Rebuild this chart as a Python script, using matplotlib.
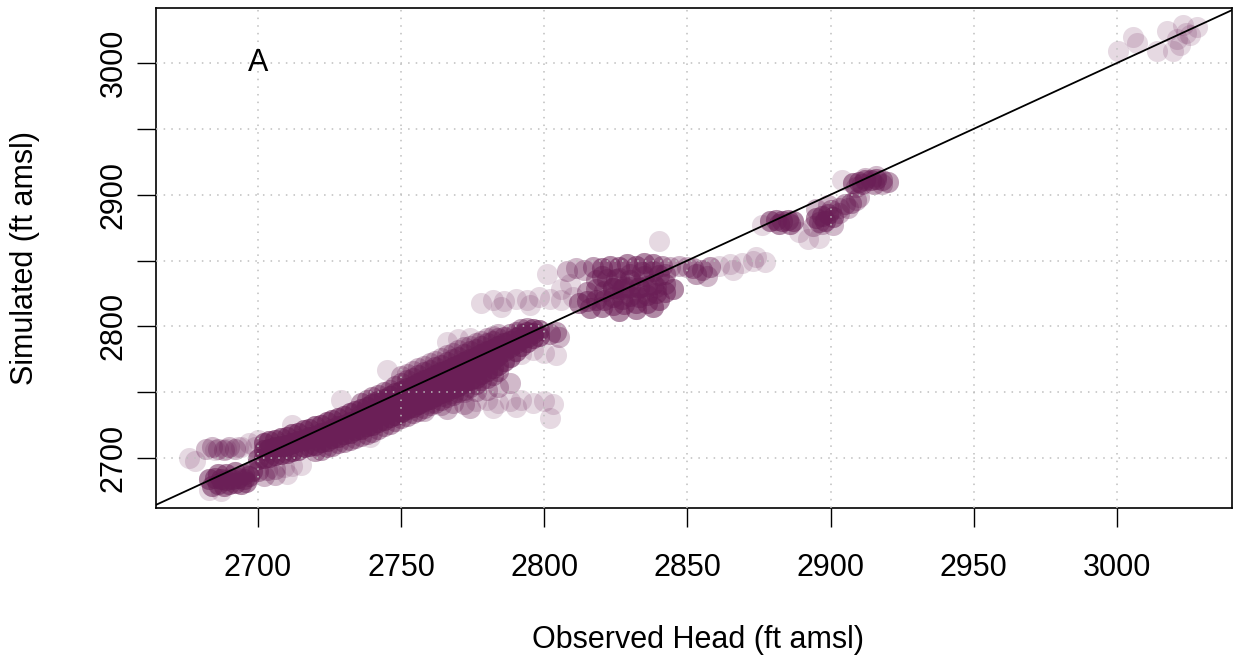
import numpy as np
import matplotlib
matplotlib.use("Agg")
import matplotlib.pyplot as plt

plt.rcParams['font.family'] = ['Liberation Sans', 'DejaVu Sans']

POINT_COLOR = '#6B1F57'

# ---- Data (observed head, simulated head, number of overlapping observations) ----
# main band, lower core
r1_obs = [2700, 2702, 2704, 2706, 2708, 2710, 2712, 2714, 2716, 2718, 2720, 2722, 2724, 2726, 2728,
          2730, 2732, 2734, 2736, 2738, 2740, 2742, 2744, 2746, 2748, 2750, 2752, 2754, 2756, 2758,
          2760, 2762, 2764, 2766, 2768, 2770, 2772, 2774, 2776, 2778, 2780, 2782, 2784, 2786, 2788,
          2790, 2792, 2794, 2796, 2798]
r1_sim = [2699, 2700, 2701, 2702, 2703, 2704, 2705, 2706, 2708, 2709, 2710, 2712, 2713, 2715, 2716,
          2718, 2719, 2721, 2722, 2724, 2725, 2727, 2729, 2731, 2733, 2735, 2737, 2739, 2741, 2743,
          2745, 2747, 2749, 2751, 2753, 2755, 2757, 2759, 2761, 2764, 2766, 2768, 2771, 2774, 2777,
          2781, 2785, 2788, 2791, 2793]
r1_n = 5
# main band, middle core
r2_obs = [2702, 2704, 2706, 2708, 2710, 2712, 2714, 2716, 2718, 2720, 2722, 2724, 2726, 2728, 2730,
          2732, 2734, 2736, 2738, 2740, 2742, 2744, 2746, 2748, 2750, 2752, 2754, 2756, 2758, 2760,
          2762, 2764, 2766, 2768, 2770, 2772, 2774, 2776, 2778, 2780, 2782, 2784, 2786, 2788, 2790,
          2792, 2794, 2796, 2798]
r2_sim = [2706, 2707, 2708, 2709, 2710, 2711, 2713, 2714, 2716, 2717, 2719, 2720, 2722, 2724, 2725,
          2727, 2728, 2730, 2732, 2733, 2735, 2737, 2739, 2741, 2743, 2745, 2747, 2749, 2751, 2753,
          2755, 2757, 2759, 2761, 2763, 2765, 2767, 2769, 2771, 2773, 2775, 2778, 2781, 2784, 2787,
          2790, 2792, 2795, 2797]
r2_n = 5
# main band, upper core
r3_obs = [2702, 2704, 2706, 2708, 2710, 2712, 2714, 2716, 2718, 2720, 2722, 2724, 2726, 2728, 2730,
          2732, 2734, 2736, 2738, 2740, 2742, 2744, 2746, 2748, 2750, 2752, 2754, 2756, 2758, 2760,
          2762, 2764, 2766, 2768, 2770, 2772, 2774, 2776, 2778, 2780, 2782, 2784, 2786, 2788, 2790,
          2792, 2794, 2796]
r3_sim = [2711, 2713, 2714, 2715, 2716, 2718, 2719, 2721, 2722, 2724, 2725, 2727, 2729, 2730, 2732,
          2734, 2736, 2737, 2739, 2741, 2743, 2745, 2747, 2749, 2751, 2753, 2755, 2757, 2759, 2761,
          2763, 2765, 2767, 2769, 2771, 2773, 2775, 2777, 2779, 2781, 2783, 2785, 2787, 2789, 2791,
          2794, 2796, 2798]
r3_n = 5
# main band, lower edge
r4_obs = [2720, 2722, 2724, 2726, 2728, 2730, 2732, 2734, 2736, 2738, 2740, 2742, 2744, 2746, 2748,
          2750, 2752, 2754, 2756, 2758, 2760, 2762, 2764, 2766, 2768, 2770, 2772, 2774, 2776, 2778,
          2780, 2782, 2784]
r4_sim = [2705, 2706, 2708, 2709, 2711, 2712, 2714, 2715, 2717, 2718, 2720, 2722, 2724, 2726, 2728,
          2730, 2732, 2734, 2736, 2738, 2740, 2742, 2744, 2746, 2748, 2750, 2752, 2754, 2756, 2759,
          2761, 2763, 2766]
r4_n = 3
# main band, upper edge
r5_obs = [2736, 2738, 2740, 2742, 2744, 2746, 2748, 2750, 2752, 2754, 2756, 2758, 2760, 2762, 2764,
          2766, 2768, 2770, 2772, 2774, 2776, 2778, 2780, 2782, 2784, 2786, 2788, 2790, 2792, 2794]
r5_sim = [2742, 2744, 2746, 2748, 2750, 2752, 2755, 2757, 2759, 2761, 2763, 2765, 2767, 2769, 2771,
          2773, 2775, 2777, 2779, 2781, 2783, 2785, 2787, 2789, 2791, 2792, 2794, 2796, 2798, 2799]
r5_n = 3
# main band, top edge
r6_obs = [2750, 2752, 2754, 2756, 2758, 2760, 2762, 2764, 2766, 2768, 2770, 2772, 2774, 2776, 2778,
          2780, 2782, 2784]
r6_sim = [2762, 2764, 2766, 2768, 2770, 2772, 2774, 2776, 2778, 2780, 2782, 2784, 2785, 2787, 2789,
          2791, 2793, 2794]
r6_n = 2
# medium-density zone under the band
r7_obs = [2748, 2752, 2756, 2760, 2764, 2768, 2772, 2776, 2780, 2784, 2788]
r7_sim = [2742, 2745, 2746, 2748, 2747, 2749, 2750, 2751, 2752, 2754, 2757]
r7_n = 2

# lower-left low cluster
lowa_obs = [2683, 2685, 2687, 2689, 2691, 2693, 2695, 2697, 2684, 2686, 2688, 2690, 2692, 2694, 2696,
            2686, 2689, 2692, 2695, 2698]
lowa_sim = [2684, 2685, 2684, 2683, 2684, 2685, 2684, 2686, 2679, 2680, 2679, 2680, 2681, 2680, 2682,
            2688, 2688, 2689, 2688, 2690]
lowa_n = 4
lowx_obs = [2700, 2703, 2706, 2709, 2712, 2715, 2702, 2706, 2710, 2683, 2687]
lowx_sim = [2690, 2691, 2692, 2693, 2694, 2695, 2686, 2687, 2688, 2676, 2675]
lowx_n = [3, 2, 2, 1, 1, 1, 2, 2, 1, 1, 1]

# lower-left upper streak
upb_obs = [2682, 2684, 2686, 2688, 2690, 2692, 2694, 2685, 2689, 2693, 2678, 2676, 2699, 2697]
upb_sim = [2707, 2708, 2707, 2706, 2708, 2707, 2708, 2706, 2707, 2708, 2698, 2700, 2708, 2711]
upb_n = [2, 2, 2, 2, 2, 2, 1, 1, 1, 1, 1, 1, 1, 1]

# streak below the band
below_obs = [2736, 2740, 2744, 2748, 2752, 2756, 2760, 2764, 2768, 2772, 2776, 2780, 2784, 2788, 2792,
             2796, 2800, 2803, 2802, 2750, 2758, 2766, 2774, 2782, 2790]
below_sim = [2733, 2734, 2738, 2740, 2739, 2741, 2742, 2740, 2742, 2741, 2743, 2744, 2742, 2743, 2744,
             2742, 2743, 2741, 2730, 2735, 2736, 2737, 2738, 2738, 2739]
below_n = [2, 2, 2, 2, 2, 2, 2, 2, 2, 2, 1, 1, 1, 1, 1, 1, 1, 1, 1, 2, 2, 2, 2, 1, 1]

# scattered points above the band
above_obs = [2700, 2712, 2729, 2745, 2766, 2770, 2774, 2739]
above_sim = [2714, 2725, 2744, 2767, 2788, 2790, 2791, 2716]
above_n = 1

# points near 2800
p2800_obs = [2802, 2804, 2805, 2796, 2800, 2804, 2792]
p2800_sim = [2794, 2796, 2792, 2782, 2780, 2778, 2779]
p2800_n = [3, 3, 2, 1, 1, 1, 1]

# light row near 2820
row2820_obs = [2778, 2782, 2786, 2790, 2794, 2798, 2802, 2806, 2810, 2785, 2795, 2801, 2806, 2809]
row2820_sim = [2818, 2820, 2819, 2821, 2820, 2822, 2821, 2820, 2822, 2815, 2816, 2840, 2828, 2832]
row2820_n = 1

# middle cluster, lower part
midlo_obs = [2812, 2815, 2818, 2821, 2824, 2827, 2830, 2833, 2836, 2839, 2842, 2845, 2816, 2820, 2824,
             2828, 2832, 2836, 2840, 2826, 2832, 2838]
midlo_sim = [2818, 2819, 2820, 2820, 2822, 2821, 2823, 2822, 2824, 2825, 2826, 2828, 2814, 2815, 2816,
             2817, 2818, 2818, 2820, 2812, 2813, 2815]
midlo_n = 4

# middle cluster, centre
midce_obs = [2815, 2818, 2821, 2824, 2827, 2830, 2833, 2836, 2839, 2842, 2818, 2822, 2826, 2830, 2834,
             2838, 2842]
midce_sim = [2826, 2828, 2827, 2829, 2828, 2830, 2829, 2831, 2830, 2832, 2835, 2836, 2837, 2840, 2841,
             2842, 2840]
midce_n = 3

# middle cluster, upper part
midup_obs = [2808, 2811, 2814, 2817, 2820, 2823, 2826, 2829, 2832, 2835, 2838, 2841, 2844, 2847, 2850,
             2820, 2825, 2830, 2835, 2840, 2828, 2833, 2838, 2824, 2840]
midup_sim = [2842, 2844, 2843, 2845, 2844, 2846, 2845, 2847, 2846, 2848, 2847, 2846, 2845, 2846, 2845,
             2838, 2836, 2835, 2838, 2839, 2830, 2830, 2832, 2829, 2865]
midup_n = [2, 2, 2, 3, 4, 4, 4, 4, 4, 4, 4, 3, 2, 2, 2, 4, 4, 4, 4, 4, 4, 4, 4, 4, 1]

# middle cluster, right extension
midrt_obs = [2852, 2855, 2858, 2853, 2857, 2861, 2865, 2869, 2873, 2877, 2866]
midrt_sim = [2844, 2843, 2845, 2840, 2838, 2846, 2847, 2848, 2850, 2849, 2843]
midrt_n = [3, 3, 3, 3, 2, 1, 1, 1, 1, 1, 1]

# upper clusters 2880-2920
u1_obs = [2879, 2881, 2883, 2885, 2887, 2882, 2886]
u1_sim = [2880, 2881, 2880, 2881, 2880, 2878, 2878]
u1_n = 4
u2_obs = [2895, 2897, 2899, 2901, 2898, 2900, 2896, 2894, 2897, 2901, 2903, 2899, 2895]
u2_sim = [2882, 2884, 2885, 2883, 2880, 2888, 2879, 2876, 2878, 2877, 2886, 2892, 2889]
u2_n = [4, 4, 4, 4, 4, 3, 3, 2, 2, 2, 2, 2, 2]
u3_obs = [2903, 2905, 2907, 2909, 2906, 2910]
u3_sim = [2890, 2893, 2894, 2896, 2890, 2898]
u3_n = [2, 3, 3, 2, 2, 2]
u4_obs = [2908, 2910, 2912, 2914, 2916, 2918, 2920, 2911, 2915, 2912, 2916, 2909, 2918]
u4_sim = [2909, 2910, 2911, 2911, 2912, 2911, 2910, 2908, 2908, 2913, 2914, 2906, 2908]
u4_n = [4, 4, 4, 4, 4, 3, 3, 3, 3, 2, 2, 2, 2]
ul_obs = [2892, 2896, 2904, 2874, 2889, 2876]
ul_sim = [2866, 2867, 2911, 2853, 2872, 2877]
ul_n = 1

# top right points near 3000
tr_obs = [3000.4, 3005.6, 3007, 3014, 3017.5, 3019.6, 3022, 3023, 3025.5, 3028, 3021, 3024]
tr_sim = [3009, 3020, 3015, 3009, 3024, 3009, 3014, 3029, 3021, 3027, 3018, 3023]
tr_n = 1

groups = [
    (r1_obs, r1_sim, r1_n), (r2_obs, r2_sim, r2_n), (r3_obs, r3_sim, r3_n),
    (r4_obs, r4_sim, r4_n), (r5_obs, r5_sim, r5_n), (r6_obs, r6_sim, r6_n), (r7_obs, r7_sim, r7_n),
    (lowa_obs, lowa_sim, lowa_n), (lowx_obs, lowx_sim, lowx_n), (upb_obs, upb_sim, upb_n),
    (below_obs, below_sim, below_n), (above_obs, above_sim, above_n),
    (p2800_obs, p2800_sim, p2800_n), (row2820_obs, row2820_sim, row2820_n),
    (midlo_obs, midlo_sim, midlo_n), (midce_obs, midce_sim, midce_n),
    (midup_obs, midup_sim, midup_n), (midrt_obs, midrt_sim, midrt_n),
    (u1_obs, u1_sim, u1_n), (u2_obs, u2_sim, u2_n), (u3_obs, u3_sim, u3_n), (u4_obs, u4_sim, u4_n),
    (ul_obs, ul_sim, ul_n), (tr_obs, tr_sim, tr_n),
]

obs_all = np.concatenate([np.repeat(np.asarray(o, float), n) for o, s, n in groups])
sim_all = np.concatenate([np.repeat(np.asarray(s, float), n) for o, s, n in groups])

x_ticks = [2700, 2750, 2800, 2850, 2900, 2950, 3000]
y_ticks = [2700, 2750, 2800, 2850, 2900, 2950, 3000]
y_tick_labels = ['2700', '', '2800', '', '2900', '', '3000']

# ---- Figure ----
W, H = 1242, 666
fig = plt.figure(figsize=(W / 100, H / 100), dpi=100)
ax = fig.add_axes([156 / W, (H - 508) / H, (1232 - 156) / W, (508 - 8) / H])

ax.scatter(obs_all, sim_all, s=230, color=POINT_COLOR, alpha=0.17, linewidths=0, zorder=2)

for gx in x_ticks:
    ax.axvline(gx, color='#BEBEBE', lw=1.1, linestyle=(0, (1, 4)), zorder=3)
for gy in y_ticks:
    ax.axhline(gy, color='#BEBEBE', lw=1.1, linestyle=(0, (1, 4)), zorder=3)

ax.axline((2700, 2700), slope=1, color='black', lw=1.3, zorder=4)

ax.set_xlim(2664.4, 3040.2)
ax.set_ylim(2662.0, 3041.8)

ax.set_xticks(x_ticks)
ax.set_xticklabels([str(v) for v in x_ticks])
ax.set_yticks(y_ticks)
ax.set_yticklabels(y_tick_labels, rotation=90, va='center')

ax.tick_params(axis='both', direction='out', length=13.7, width=1.0, labelsize=22, colors='black')
ax.tick_params(axis='x', pad=19)
ax.tick_params(axis='y', pad=6)

for sp in ax.spines.values():
    sp.set_linewidth(1.2)
    sp.set_color('black')

ax.text(2700, 3000, 'A', fontsize=22, ha='center', va='center', zorder=5)

fig.text(698 / W, (H - 640) / H, 'Observed Head (ft amsl)', fontsize=22, ha='center', va='center')
fig.text(25 / W, (H - 258) / H, 'Simulated (ft amsl)', fontsize=22, ha='center', va='center',
         rotation=90)

fig.savefig('out.png', dpi=100)
